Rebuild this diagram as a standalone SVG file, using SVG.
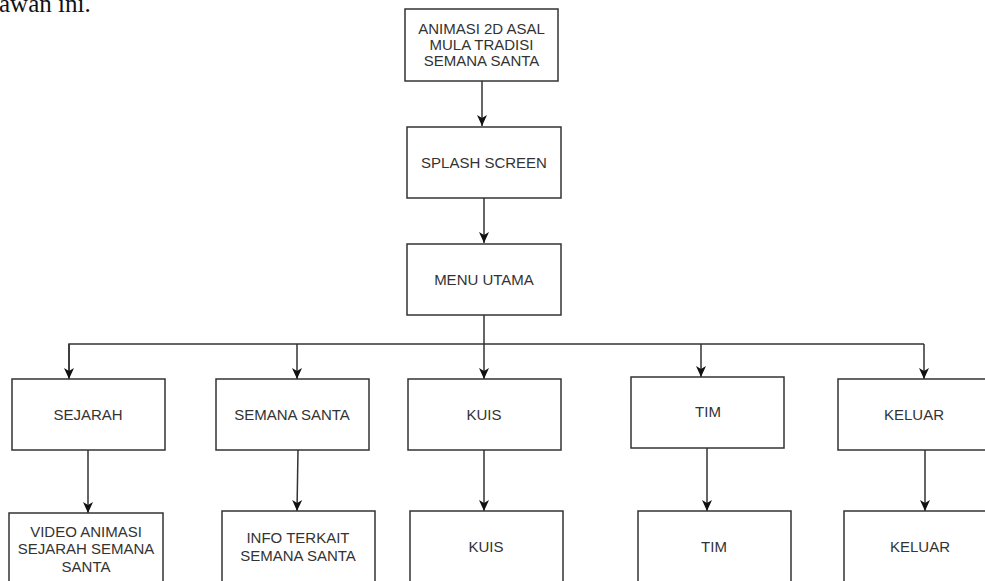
<svg xmlns="http://www.w3.org/2000/svg" width="985" height="581" viewBox="0 0 985 581">
<style>
.box{fill:#ffffff;stroke:#333333;stroke-width:1.5}
.lbl{font-family:"Liberation Sans",Arial,sans-serif;font-size:15px;fill:#333333;text-anchor:middle}
.con{fill:none;stroke:#333333;stroke-width:1.5}
.arr{marker-end:url(#ah)}
</style>
<defs>
<marker id="ah" markerUnits="userSpaceOnUse" markerWidth="12" markerHeight="12" viewBox="0 0 12 12" refX="11" refY="6" orient="auto">
<path d="M0,1 L11,6 L0,11 L3,6 Z" fill="#111111"/>
</marker>
</defs>
<rect width="985" height="581" fill="#ffffff"/>
<text x="-1" y="12" font-family="'Liberation Serif','Times New Roman',serif" font-size="25" fill="#111111">awan ini.</text>
<g id="connectors">
<line class="con arr" x1="482" y1="81" x2="482" y2="126"/>
<line class="con arr" x1="484" y1="198" x2="484" y2="243"/>
<line class="con arr" x1="484" y1="315" x2="484" y2="379"/>
<polyline class="con" points="69,377 69,344 924,344"/>
<line class="con arr" x1="69" y1="344" x2="69" y2="379"/>
<line class="con arr" x1="297" y1="344" x2="297" y2="379"/>
<line class="con arr" x1="701" y1="344" x2="701" y2="377"/>
<line class="con arr" x1="924" y1="344" x2="924" y2="379"/>
<line class="con arr" x1="88" y1="450" x2="88" y2="513"/>
<line class="con arr" x1="298" y1="450" x2="297" y2="511"/>
<line class="con arr" x1="484" y1="450" x2="484" y2="511"/>
<line class="con arr" x1="707" y1="448" x2="707" y2="511"/>
<line class="con arr" x1="925" y1="450" x2="925" y2="511"/>
</g>
<g id="n-animasi">
<rect class="box" x="405" y="9" width="153" height="72"/>
<text class="lbl" x="481.5" y="33.5">ANIMASI 2D ASAL</text>
<text class="lbl" x="481.5" y="49.5">MULA TRADISI</text>
<text class="lbl" x="481.5" y="65.5">SEMANA SANTA</text>
</g>
<g id="n-splash">
<rect class="box" x="407" y="127" width="154" height="71"/>
<text class="lbl" x="484" y="167.5">SPLASH SCREEN</text>
</g>
<g id="n-menu">
<rect class="box" x="407" y="244" width="154" height="71"/>
<text class="lbl" x="484" y="284.5">MENU UTAMA</text>
</g>
<g id="n-sejarah">
<rect class="box" x="12" y="379" width="153" height="71"/>
<text class="lbl" x="88" y="419.5">SEJARAH</text>
</g>
<g id="n-semana">
<rect class="box" x="216" y="379" width="153" height="71"/>
<text class="lbl" x="292" y="419.5">SEMANA SANTA</text>
</g>
<g id="n-kuis">
<rect class="box" x="408" y="379" width="153" height="71"/>
<text class="lbl" x="484" y="419.5">KUIS</text>
</g>
<g id="n-tim">
<rect class="box" x="631" y="377" width="153" height="71"/>
<text class="lbl" x="708" y="416.5">TIM</text>
</g>
<g id="n-keluar">
<rect class="box" x="838" y="379" width="153" height="71"/>
<text class="lbl" x="914" y="419.5">KELUAR</text>
</g>
<g id="n-video">
<rect class="box" x="9" y="513" width="154" height="80"/>
<text class="lbl" x="86" y="536.5">VIDEO ANIMASI</text>
<text class="lbl" x="86" y="553.5">SEJARAH SEMANA</text>
<text class="lbl" x="86" y="571.5">SANTA</text>
</g>
<g id="n-info">
<rect class="box" x="222" y="511" width="153" height="80"/>
<text class="lbl" x="298" y="542.5">INFO TERKAIT</text>
<text class="lbl" x="298" y="560.5">SEMANA SANTA</text>
</g>
<g id="n-kuis2">
<rect class="box" x="410" y="511" width="153" height="80"/>
<text class="lbl" x="486" y="551.5">KUIS</text>
</g>
<g id="n-tim2">
<rect class="box" x="638" y="511" width="153" height="80"/>
<text class="lbl" x="714" y="551.5">TIM</text>
</g>
<g id="n-keluar2">
<rect class="box" x="844" y="511" width="153" height="80"/>
<text class="lbl" x="920" y="551.5">KELUAR</text>
</g>
</svg>
